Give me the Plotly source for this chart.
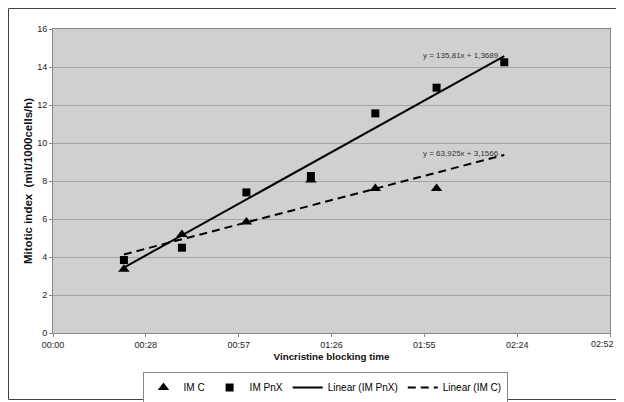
import plotly.graph_objects as go

# Data (x in days, as in the original spreadsheet; y = mitotic index)
time_min = [22, 40, 60, 80, 100, 119, 140]
imc_vals = [3.35, 5.19, 5.84, 8.05, 7.6, 7.6]
impnx_vals = [3.84, 4.49, 7.4, 8.26, 11.56, 12.91, 14.25]

# Trendline coefficients as printed on the chart
pnx_slope, pnx_intercept = 135.81, 1.3689
imc_slope, imc_intercept = 63.925, 3.1566
pnx_eq_label = "y = 135,81x + 1,3689"
imc_eq_label = "y = 63,925x + 3,1566"

tick_vals_days = [0, 0.02, 0.04, 0.06, 0.08, 0.10, 0.12]
tick_labels = ["00:00", "00:28", "00:57", "01:26", "01:55", "02:24", "02:52"]
y_ticks = [0, 2, 4, 6, 8, 10, 12, 14, 16]

x_days = [m / 1440 for m in time_min]
x_imc = x_days[:len(imc_vals)]
trend_x = [x_days[0], x_days[-1]]
pnx_trend = [pnx_slope * x + pnx_intercept for x in trend_x]
imc_trend = [imc_slope * x + imc_intercept for x in trend_x]

FONT = "Liberation Sans, Arial, sans-serif"

# figure is placed at page offset (8, 8) by the default body margin
W, H = 616, 394
ML, MR, MT, MB = 45, 14, 21, 69
PW, PH = W - ML - MR, H - MT - MB

fig = go.Figure()
fig.add_trace(go.Scatter(x=x_imc, y=imc_vals, mode="markers", name="IM C",
                         marker=dict(symbol="triangle-up", size=10, color="black")))
fig.add_trace(go.Scatter(x=x_days, y=impnx_vals, mode="markers", name="IM PnX",
                         marker=dict(symbol="square", size=8, color="black")))
fig.add_trace(go.Scatter(x=trend_x, y=pnx_trend, mode="lines", name="Linear (IM PnX)",
                         line=dict(color="black", width=2)))
fig.add_trace(go.Scatter(x=trend_x, y=imc_trend, mode="lines", name="Linear (IM C)",
                         line=dict(color="black", width=2, dash="8px,5px")))

fig.add_annotation(x=trend_x[1], y=pnx_trend[1], text=pnx_eq_label, showarrow=False,
                   xanchor="right", yanchor="middle", xshift=-3, yshift=1,
                   font=dict(family=FONT, size=8, color="#333"))
fig.add_annotation(x=trend_x[1], y=imc_trend[1], text=imc_eq_label, showarrow=False,
                   xanchor="right", yanchor="middle", xshift=-3, yshift=1,
                   font=dict(family=FONT, size=8, color="#333"))

# last tick label drawn as an annotation so it stays inside the window
fig.add_annotation(x=tick_vals_days[-1], xref="x", y=0, yref="paper",
                   text=tick_labels[-1], showarrow=False,
                   xanchor="right", yanchor="top", xshift=6, yshift=-4,
                   font=dict(family=FONT, size=9, color="#222"))
axis_ticktext = tick_labels[:-1] + [""]

# outer chart frame (left, top, bottom visible; right edge off the window)
fig.add_shape(type="rect", xref="paper", yref="paper",
              x0=(0.5 - ML) / PW, x1=(W + 10 - ML) / PW,
              y0=(MT + PH - (H - 2.5)) / PH, y1=(MT + PH - 0.5) / PH,
              line=dict(color="#444", width=1), layer="below")

fig.update_layout(
    width=W, height=H,
    margin=dict(l=ML, r=MR, t=MT, b=MB, autoexpand=False),
    paper_bgcolor="white", plot_bgcolor="#d0d0d0",
    font=dict(family=FONT, size=9, color="#222"),
    showlegend=True,
    legend=dict(orientation="h", xref="container", yref="container",
                x=317 / W, xanchor="center", y=1 - 364 / H, yanchor="top",
                bordercolor="#888", borderwidth=1, bgcolor="white",
                font=dict(family=FONT, size=10, color="black"),
                itemwidth=30, tracegroupgap=0),
)
fig.update_xaxes(range=[0, 0.12], tickvals=tick_vals_days, ticktext=axis_ticktext,
                 showgrid=False, zeroline=False, showline=True, linecolor="#888",
                 mirror=True, ticks="outside", ticklen=3, tickcolor="#888",
                 tickfont=dict(size=9, color="#222"),
                 title=dict(text="<b>Vincristine blocking time</b>",
                            font=dict(size=9.8, color="#111"), standoff=4))
fig.update_yaxes(range=[0, 16], tickvals=y_ticks, showgrid=True, gridcolor="#a4a4a4",
                 gridwidth=1, zeroline=False, showline=True, linecolor="#888",
                 mirror=True, ticks="outside", ticklen=3, tickcolor="#888",
                 tickfont=dict(size=9, color="#222"),
                 title=dict(text="<b>Mitotic index  (mit/1000cells/h)</b>",
                            font=dict(size=11.5, color="#111"), standoff=2))

fig.write_html("out.html")
